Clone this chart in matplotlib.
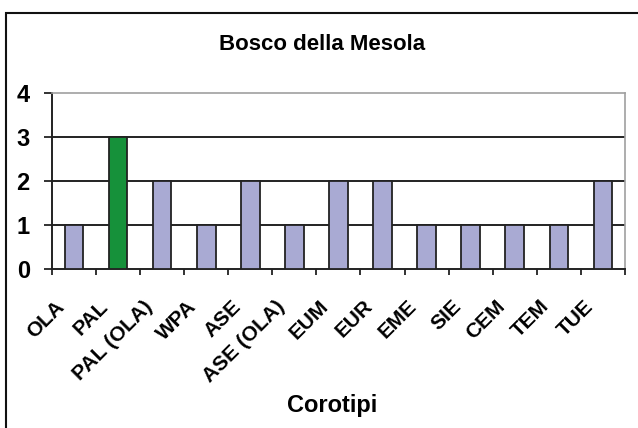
import matplotlib.pyplot as plt
import matplotlib.patches as mpatches
import matplotlib.transforms as mtransforms
import numpy as np

categories = ["OLA", "PAL", "PAL (OLA)", "WPA", "ASE", "ASE (OLA)", "EUM",
              "EUR", "EME", "SIE", "CEM", "TEM", "TUE"]
values = [1, 3, 2, 1, 2, 1, 2, 2, 1, 1, 1, 1, 2]
highlight = "PAL"

lav = "#A9AAD3"
green = "#16913A"
colors = [green if c == highlight else lav for c in categories]

plt.rcParams["font.family"] = ["Liberation Sans Narrow", "Liberation Sans", "DejaVu Sans"]

fig = plt.figure(figsize=(6.38, 4.28), dpi=100)
ax = fig.add_axes([0.0815, 0.3715, 0.898, 0.4115])

x = np.arange(len(categories))
ax.bar(x, values, width=0.42, color=colors, edgecolor="#222222",
       linewidth=1.3, zorder=3)

ax.set_ylim(0, 4)
ax.set_xlim(-0.5, len(categories) - 0.5)
ax.set_yticks([0, 1, 2, 3, 4])
ax.set_yticklabels(["0", "1", "2", "3", "4"], fontsize=17, fontweight="bold")
for yv in [1, 2, 3]:
    ax.axhline(yv, color="#222222", lw=1.4, zorder=1)

ax.set_xticks(x)
ax.set_xticks(np.arange(-0.5, len(categories)), minor=True)
ax.tick_params(axis="x", which="major", length=0, pad=20)
ax.tick_params(axis="x", which="minor", length=4, width=1.3, color="#222222")
ax.tick_params(axis="y", length=6, width=1.3, color="#222222", pad=10)
ax.set_xticklabels(categories, rotation=45, ha="right", rotation_mode="anchor",
                   fontsize=15, fontweight="bold")

# Labels sit left of the bar centre, like the original Excel chart
shift = mtransforms.ScaledTranslation(-14 / 72, 0, fig.dpi_scale_trans)
for lbl in ax.get_xticklabels():
    lbl.set_transform(lbl.get_transform() + shift)

for s in ["left", "bottom"]:
    ax.spines[s].set_color("#222222")
    ax.spines[s].set_linewidth(1.4)
for s in ["top", "right"]:
    ax.spines[s].set_color("#A0A0A0")
    ax.spines[s].set_linewidth(1.2)

fig.text(0.505, 0.895, "Bosco della Mesola", ha="center", va="center",
         fontsize=16, fontweight="bold")
fig.text(0.52, 0.052, "Corotipi", ha="center", va="center",
         fontsize=17, fontweight="bold")

fig.patches.append(mpatches.Rectangle((6 / 638, -0.1), 1.0, 0.1 + 1 - 13 / 428,
                                      transform=fig.transFigure, fill=False,
                                      edgecolor="#111111", lw=1.5))

fig.savefig("out.png", dpi=100)
